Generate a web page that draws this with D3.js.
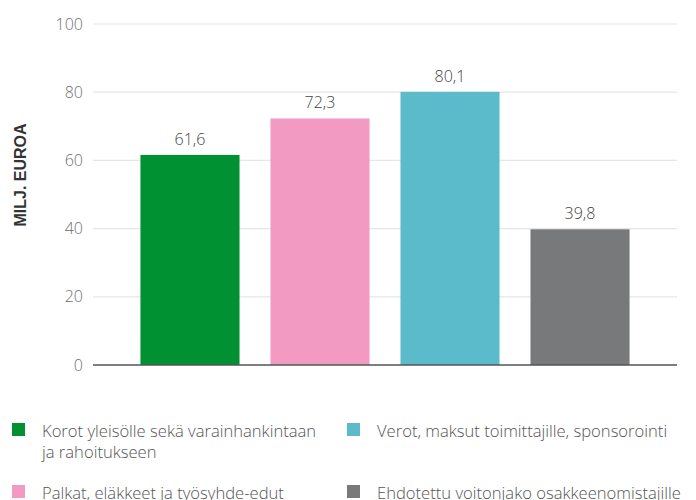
<!DOCTYPE html>
<html><head><meta charset="utf-8">
<script src="https://cdn.jsdelivr.net/npm/d3@7"></script>
<style>body{margin:0;background:#fff}svg{display:block}</style>
</head><body>
<script>
const categories = ["Korot yleisölle sekä varainhankintaan ja rahoitukseen","Palkat, eläkkeet ja työsyhde-edut","Verot, maksut toimittajille, sponsorointi","Ehdotettu voitonjako osakkeenomistajille"];
const values = [61.6, 72.3, 80.1, 39.8];
const valueLabels = ["61,6","72,3","80,1","39,8"];
const colors = ["#009133","#f39ac2","#5bbbca","#78797b"];
const yTicks = [0,20,40,60,80,100];
const yTitle = "MILJ. EUROA";
const legendLines = [["Korot yleisölle sekä varainhankintaan","ja rahoitukseen"],["Palkat, eläkkeet ja työsyhde-edut"],["Verot, maksut toimittajille, sponsorointi"],["Ehdotettu voitonjako osakkeenomistajille"]];

const W=696,H=500;
const svg=d3.select("body").append("svg").attr("width",W).attr("height",H);
const font="'Open Sans', 'Noto Sans', sans-serif";
const x=d3.scaleBand().domain(categories).range([93,677]).paddingInner(0.238).paddingOuter(0.365);
const y=d3.scaleLinear().domain([0,100]).range([365,24]);

// grid
svg.append("g").selectAll("line").data(yTicks.filter(d=>d>0)).join("line")
  .attr("x1",93).attr("x2",677).attr("y1",d=>y(d)).attr("y2",d=>y(d))
  .attr("stroke","#e6e6e6").attr("stroke-width",1.2);

const ax=svg.append("g").attr("transform","translate(93,0)")
  .call(d3.axisLeft(y).tickValues(yTicks).tickSize(0).tickPadding(10).tickFormat(d3.format("d")));
ax.select(".domain").remove();
ax.selectAll("text").attr("font-family",font).attr("font-size",16).attr("fill","#707070").attr("font-weight",300);

// bars
svg.append("g").selectAll("rect").data(values).join("rect")
  .attr("x",(d,i)=>x(categories[i])).attr("width",x.bandwidth())
  .attr("y",d=>y(d)).attr("height",d=>y(0)-y(d)).attr("fill",(d,i)=>colors[i]);

svg.append("g").selectAll("text").data(values).join("text")
  .attr("x",(d,i)=>x(categories[i])+x.bandwidth()/2).attr("y",d=>y(d)-10)
  .attr("text-anchor","middle").attr("font-family",font).attr("font-size",16).attr("font-weight",300)
  .attr("fill","#444").text((d,i)=>valueLabels[i]);

// baseline
svg.append("line").attr("x1",93).attr("x2",677).attr("y1",y(0)).attr("y2",y(0))
  .attr("stroke","#555").attr("stroke-width",1.3);

// y title
svg.append("text").attr("transform","translate(26,175) rotate(-90)")
  .attr("text-anchor","middle").attr("font-family","'Liberation Sans', Arial, sans-serif")
  .attr("font-weight","bold").attr("font-size",16).attr("fill","#333").text(yTitle);

// legend
const legPos=[[12,423],[12,485],[347,423],[347,485]];
const lg=svg.append("g").selectAll("g").data(categories).join("g")
  .attr("transform",(d,i)=>`translate(${legPos[i][0]},${legPos[i][1]})`);
lg.append("rect").attr("width",13).attr("height",13).attr("fill",(d,i)=>colors[i]);
lg.each(function(d,i){
  const t=d3.select(this).append("text").attr("font-family",font).attr("font-size",16.6)
    .attr("font-weight",300).attr("fill","#555");
  legendLines[i].forEach((l,j)=>t.append("tspan").attr("x",30).attr("y",14+j*21).text(l));
});
</script>
</body></html>
